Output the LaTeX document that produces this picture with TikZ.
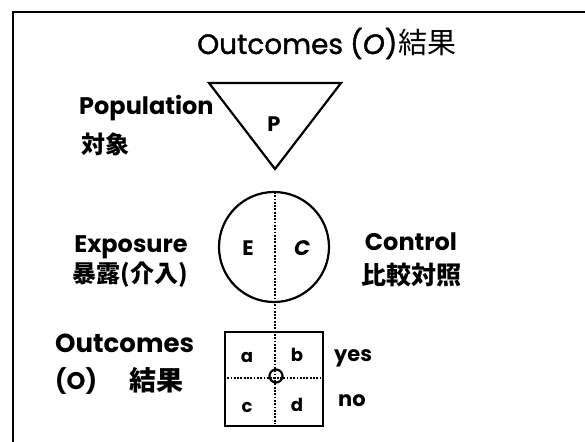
\documentclass[tikz,border=0pt]{standalone}
\usepackage{fontspec}
\setmainfont{Poppins}
\newfontfamily\titlefont[FakeBold=1.3]{Poppins}
\newfontfamily\cjk{Noto Sans CJK JP}
\begin{document}
\begin{tikzpicture}[x=1bp,y=-1bp,
  shape line/.style={line width=2.2bp},
  dotline/.style={line width=2.4bp, dash pattern=on 1.8bp off 1.5bp},
  lbl/.style={inner sep=0pt, font=\bfseries\fontsize{24bp}{26bp}\selectfont},
  cjklbl/.style={inner sep=0pt, font=\cjk\bfseries\fontsize{24bp}{26bp}\selectfont},
  cell/.style={inner sep=0pt, font=\bfseries\fontsize{18bp}{20bp}\selectfont},
  mid/.style={inner sep=0pt, font=\bfseries\fontsize{21bp}{23bp}\selectfont}]
\useasboundingbox (0,0) rectangle (585,442);
% frame
\draw[line width=2.6bp] (13,442) -- (13,12) -- (585,12);
% title
\node[inner sep=0pt, anchor=base west, font=\titlefont\fontsize{28bp}{30bp}\selectfont] (title) at (197,54)
  {Outcomes\hspace{7bp}(\textit{O})\kern1bp{\cjk\fontsize{29bp}{31bp}\selectfont 結果}};
% population triangle
\coordinate (tl) at (209,83);
\coordinate (tr) at (341,83);
\coordinate (tb) at (275,169);
\draw[shape line, line join=miter] (tl) -- (tr) -- (tb) -- cycle;
\node[mid] (p) at (274,124) {P};
\node[lbl, anchor=base west] (pop) at (79,115) {Population};
\node[cjklbl, anchor=west] (popj) at (81,144) {対象};
% exposure / control circle
\node[draw, shape line, circle, minimum size=110bp, inner sep=0pt] (ec) at (274,247) {};
\node[mid] (e) at (248,248) {E};
\node[mid, font=\bfseries\itshape\fontsize{21bp}{23bp}\selectfont] (c) at (302,248) {C};
\node[lbl, anchor=base] (exp) at (131,253) {Exposure};
\node[cjklbl, anchor=center] (expj) at (130,275) {暴露(介入)};
\node[lbl, anchor=base] (ctl) at (411,251) {Control};
\node[cjklbl, anchor=center, font=\cjk\bfseries\fontsize{25bp}{27bp}\selectfont] (ctlj) at (411,275) {比較対照};
% outcome table
\node[draw, shape line, rectangle, minimum width=98bp, minimum height=94bp, inner sep=0pt] (tab) at (274,379) {};
\coordinate (hl) at (tab.west |- 0,378);
\coordinate (hr) at (tab.east |- 0,378);
\draw[dotline] (hl) -- (hr);
\draw[dotline] (275,192) -- (275,424);
\node[draw, line width=2.2bp, circle, minimum size=13bp, inner sep=0pt] (o) at (276,376) {};
\node[cell] (a) at (247,357) {a};
\node[cell] (b) at (297,355) {b};
\node[cell] (cc) at (247,407) {c};
\node[cell] (d) at (297,405) {d};
\node[mid] (yes) at (353,358) {yes};
\node[mid] (no) at (352,401) {no};
\node[lbl, anchor=base west, font=\bfseries\fontsize{26bp}{28bp}\selectfont] (out) at (55,352) {Outcomes};
\node[lbl, anchor=west] (outo) at (55,381) {(O)};
\node[cjklbl, anchor=west, font=\cjk\bfseries\fontsize{27bp}{29bp}\selectfont] (outj) at (129,380) {結果};
\end{tikzpicture}
\end{document}
